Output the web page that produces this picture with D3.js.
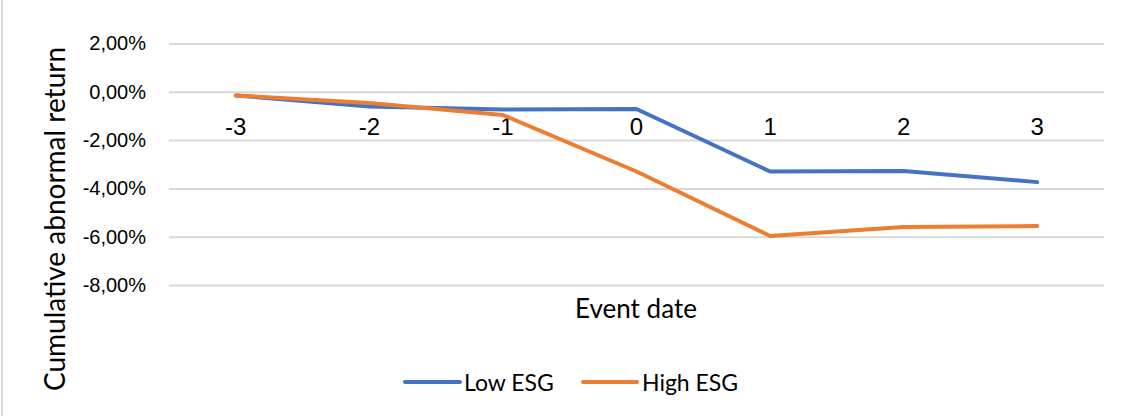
<!DOCTYPE html>
<html>
<head>
<meta charset="utf-8">
<script src="https://cdn.jsdelivr.net/npm/d3@7"></script>
<style>
  html, body { margin: 0; padding: 0; background: #fff; }
  svg { display: block; font-family: Lato, "Open Sans", sans-serif; }
</style>
</head>
<body>
<svg id="chart" width="1131" height="416"></svg>
<script>
// Event window (days relative to announcement)
const eventDays = ["-3", "-2", "-1", "0", "1", "2", "3"];
// Cumulative abnormal returns, in percent
const lowESG  = [-0.15, -0.61, -0.73, -0.71, -3.30, -3.28, -3.74];
const highESG = [-0.15, -0.46, -0.96, -3.30, -5.97, -5.60, -5.56];
const yTicks = [2, 0, -2, -4, -6, -8];
const seriesNames = ["Low ESG", "High ESG"];
const seriesColors = ["#4472C4", "#ED7D31"];

const svg = d3.select("#chart");
const W = 1131, H = 416;

// outer chart frame (only the left edge shows)
svg.append("line")
  .attr("x1", 2).attr("x2", 2).attr("y1", 0).attr("y2", H)
  .attr("stroke", "#d9d9d9").attr("stroke-width", 2);

const plot = { left: 169, right: 1104, top: 43.5, bottom: 285 };

const x = d3.scaleBand().domain(eventDays).range([plot.left, plot.right]);
const y = d3.scaleLinear().domain([-8, 2]).range([plot.bottom, plot.top]);

const fmt = v => v.toFixed(2).replace(".", ",") + "%";

// horizontal gridlines + y labels
const yAxis = d3.axisLeft(y).tickValues(yTicks).tickFormat(fmt)
  .tickSize(-(plot.right - plot.left)).tickPadding(23);
const gy = svg.append("g").attr("transform", `translate(${plot.left},0)`).call(yAxis);
gy.select(".domain").remove();
gy.selectAll(".tick line").attr("stroke", "#d9d9d9").attr("stroke-width", 2);
gy.selectAll(".tick text").attr("fill", "#000").style("font-size", "20px");

// category labels sit below the zero line
const xAxis = d3.axisBottom(x).tickSize(0);
const gx = svg.append("g").attr("transform", `translate(0,${y(0)})`).call(xAxis);
gx.select(".domain").remove();
gx.selectAll(".tick text").attr("fill", "#000").attr("y", 35).attr("dy", "0.35em")
  .style("font-size", "24px");

// series lines
const line = d3.line()
  .x((d, i) => x(eventDays[i]) + x.bandwidth() / 2)
  .y(d => y(d));

[lowESG, highESG].forEach((vals, k) => {
  svg.append("path")
    .datum(vals)
    .attr("d", line)
    .attr("fill", "none")
    .attr("stroke", seriesColors[k])
    .attr("stroke-width", 4)
    .attr("stroke-linejoin", "round")
    .attr("stroke-linecap", "round");
});

// axis titles
svg.append("text")
  .attr("x", 636).attr("y", 308)
  .attr("text-anchor", "middle").attr("dominant-baseline", "central")
  .style("font-size", "26px").text("Event date");

svg.append("text")
  .attr("transform", "translate(54,219) rotate(-90)")
  .attr("text-anchor", "middle").attr("dominant-baseline", "central")
  .style("font-size", "28px").text("Cumulative abnormal return");

// legend
const legendItems = [
  { x1: 405, x2: 460, tx: 464 },
  { x1: 583, x2: 637, tx: 642 }
];
legendItems.forEach((it, k) => {
  svg.append("line")
    .attr("x1", it.x1).attr("x2", it.x2).attr("y1", 382).attr("y2", 382)
    .attr("stroke", seriesColors[k]).attr("stroke-width", 4)
    .attr("stroke-linecap", "round");
  svg.append("text")
    .attr("x", it.tx).attr("y", 382)
    .attr("dominant-baseline", "central")
    .style("font-size", "23px").text(seriesNames[k]);
});
</script>
</body>
</html>
